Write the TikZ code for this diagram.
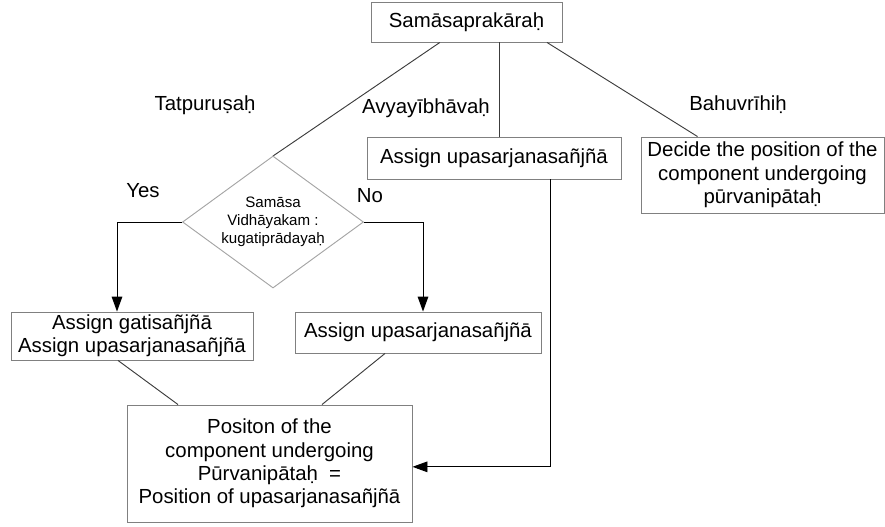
\documentclass[tikz,border=0pt]{standalone}
\usepackage{fontspec}
\setmainfont{Liberation Sans}
\usetikzlibrary{shapes.geometric,arrows.meta}
\definecolor{boxgray}{RGB}{128,128,128}
\definecolor{linegray}{RGB}{60,60,60}
\definecolor{diagray}{RGB}{165,165,165}

\begin{document}
\begin{tikzpicture}[x=0.03cm,y=-0.03cm,
    box/.style={draw=boxgray,line width=0.8pt,align=center,inner sep=0pt,font=\fontsize{17.4}{20}\selectfont},
    lbl/.style={font=\fontsize{17.4}{20}\selectfont},
    link/.style={draw=linegray,line width=0.8pt},
    arr/.style={draw=black,line width=0.8pt,-{Triangle[length=4.5mm,width=3.2mm]}}]
        \useasboundingbox (0,0) rectangle (885,527);
        %% top
        \node[box,minimum width=5.73cm,minimum height=1.2cm] (top) at (466.5,22) {Samāsaprakāraḥ};
        %% three kinds
        \node[lbl] (tat) at (205,105) {Tatpuruṣaḥ};
        \node[lbl] (avy) at (426,108) {Avyayībhāvaḥ};
        \node[lbl] (bah) at (738,105) {Bahuvrīhiḥ};
        \node[box,minimum width=7.62cm,minimum height=1.26cm] (mid) at (494,158) {Assign upasarjanasañjñā};
        \node[box,minimum width=7.29cm,minimum height=2.28cm] (right) at (762.5,175) {Decide the position of the\\component undergoing\\pūrvanipātaḥ};
        \draw[link] ([xshift=-0.8cm]top.south) -- (273,156) coordinate (dtop);
        \draw[link] ([xshift=0.975cm]top.south) -- ([xshift=0.975cm]top.south |- mid.north);
        \draw[link] ([xshift=2.415cm]top.south) -- ([xshift=-1.95cm]right.north);
        %% decision
        \node[draw=diagray,line width=0.8pt,diamond,aspect=1.37,inner sep=0pt,minimum width=5.43cm,minimum height=3.96cm,
            align=center,font=\fontsize{12.9}{15.3}\selectfont] (dia) at (273,222) {Samāsa\\Vidhāyakam :\\kugatiprādayaḥ};
        \node[lbl] (yes) at (143,191) {Yes};
        \node[lbl] (no) at (370,196) {No};
        \node[box,minimum width=7.26cm,minimum height=1.44cm] (lbox) at (132,336) {Assign gatisañjñā\\Assign upasarjanasañjñā};
        \node[box,minimum width=7.38cm,minimum height=1.23cm] (rbox) at (418,332.5) {Assign upasarjanasañjñā};
        \draw[arr] (dia.west) -| ([xshift=-0.45cm]lbox.north);
        \draw[arr] (dia.east) -| ([xshift=0.15cm]rbox.north);
        %% result
        \node[box,minimum width=8.55cm,minimum height=3.51cm] (bot) at (269.5,463.5) {Positon of the\\component undergoing\\Pūrvanipātaḥ~ =\\Position of upasarjanasañjñā};
        \draw[link] ([xshift=-0.42cm]lbox.south) -- ([xshift=-2.745cm]bot.north);
        \draw[link] ([xshift=-0.99cm]rbox.south) -- ([xshift=1.575cm]bot.north);
        \draw[arr] ([xshift=1.68cm]mid.south) |- ([yshift=-0.1cm]bot.east);
    \end{tikzpicture}
\end{document}
